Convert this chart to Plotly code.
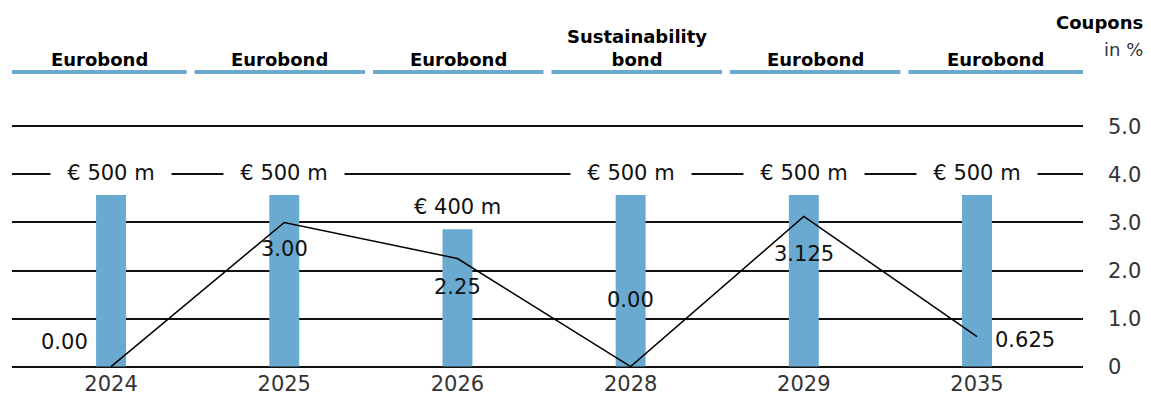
import plotly.graph_objects as go

# Bond maturities, issue volumes (EUR m) and coupons (%)
years = ["2024", "2025", "2026", "2028", "2029", "2035"]
volumes = [500, 500, 400, 500, 500, 500]
coupons = [0.00, 3.00, 2.25, 0.00, 3.125, 0.625]
coupon_text = ["0.00", "3.00", "2.25", "0.00", "3.125", "0.625"]
bond_types = ["Eurobond", "Eurobond", "Eurobond", "Sustainability<br>bond", "Eurobond", "Eurobond"]
y_ticks = [0, 1, 2, 3, 4, 5]
y_ticktext = ["0", "1.0", "2.0", "3.0", "4.0", "5.0"]

# label offsets (px) for the coupon values
coupon_dx = [-47, 0, 0, 0, 0, 48]
coupon_dy = [25, -27, -28, 67, -38, -3]

BLUE = "#6aaad0"
FONT = "DejaVu Sans"
pos = list(range(len(years)))

fig = go.Figure()

# volumes on the hidden primary axis
fig.add_trace(go.Bar(
    x=pos, y=volumes, yaxis="y", width=0.173,
    marker=dict(color=BLUE, line=dict(width=0)),
    hoverinfo="skip", showlegend=False,
))

# coupons on the visible overlay axis, drawn above the bars
fig.add_trace(go.Scatter(
    x=pos, y=coupons, yaxis="y2", mode="lines",
    line=dict(color="#000000", width=1.5),
    hoverinfo="skip", showlegend=False,
))

annotations = []
# volume labels above the bars
for p, v in zip(pos, volumes):
    full = v == max(volumes)
    annotations.append(dict(
        x=p, y=v, xref="x", yref="y", yanchor="middle", yshift=22,
        text=f"€ {v} m", showarrow=False,
        font=dict(family=FONT, size=21, color="#111111"),
        bgcolor="white" if full else "rgba(0,0,0,0)",
        width=118 if full else None, borderpad=1,
    ))
# coupon labels
for p, c, t, dx, dy in zip(pos, coupons, coupon_text, coupon_dx, coupon_dy):
    annotations.append(dict(
        x=p, y=c, xref="x", yref="y2", text=t, showarrow=False,
        xshift=dx, yshift=dy,
        font=dict(family=FONT, size=21, color="#111111"),
    ))

# header: bond type labels above blue bars
shapes = []
n = len(bond_types)
gap = 8 / 1071
for i, name in enumerate(bond_types):
    x0 = i / n + (gap / 2 if i > 0 else 0)
    x1 = (i + 1) / n - (gap / 2 if i < n - 1 else 0)
    shapes.append(dict(
        type="line", xref="paper", yref="paper", x0=x0, x1=x1, y0=1.212, y1=1.212,
        line=dict(color=BLUE, width=4),
    ))
    annotations.append(dict(
        x=(x0 + x1) / 2, y=1.214, xref="paper", yref="paper",
        xanchor="center", yanchor="bottom", text=f"<b>{name}</b>",
        showarrow=False, font=dict(family=FONT, size=18, color="#000000"),
    ))

annotations.append(dict(
    x=1.058, y=1.365, xref="paper", yref="paper", xanchor="right", yanchor="bottom",
    text="<b>Coupons</b>", showarrow=False,
    font=dict(family=FONT, size=18, color="#000000"),
))
annotations.append(dict(
    x=1.058, y=1.255, xref="paper", yref="paper", xanchor="right", yanchor="bottom",
    text="in %", showarrow=False,
    font=dict(family=FONT, size=18, color="#333333"),
))

fig.update_layout(
    width=1151, height=403,
    margin=dict(l=12, r=68, t=124, b=34, autoexpand=False),
    paper_bgcolor="white", plot_bgcolor="white",
    font=dict(family=FONT),
    xaxis=dict(
        range=[-0.572, 5.612], tickvals=pos, ticktext=years, automargin=False,
        showgrid=False, zeroline=False, showline=False, ticks="",
        tickfont=dict(family=FONT, size=21, color="#333333"),
    ),
    yaxis=dict(
        range=[-7, 707], visible=False, showgrid=False, zeroline=False,
        automargin=False,
    ),
    yaxis2=dict(
        range=[-0.05, 5.05], side="right", overlaying="y", automargin=False,
        tickvals=y_ticks, ticktext=y_ticktext,
        showgrid=True, gridcolor="#111111", gridwidth=1.5,
        zeroline=False, showline=False, ticks="", ticklabelstandoff=24,
        tickfont=dict(family=FONT, size=21, color="#333333"),
    ),
    annotations=annotations,
    shapes=shapes,
)

fig.write_html("out.html")
